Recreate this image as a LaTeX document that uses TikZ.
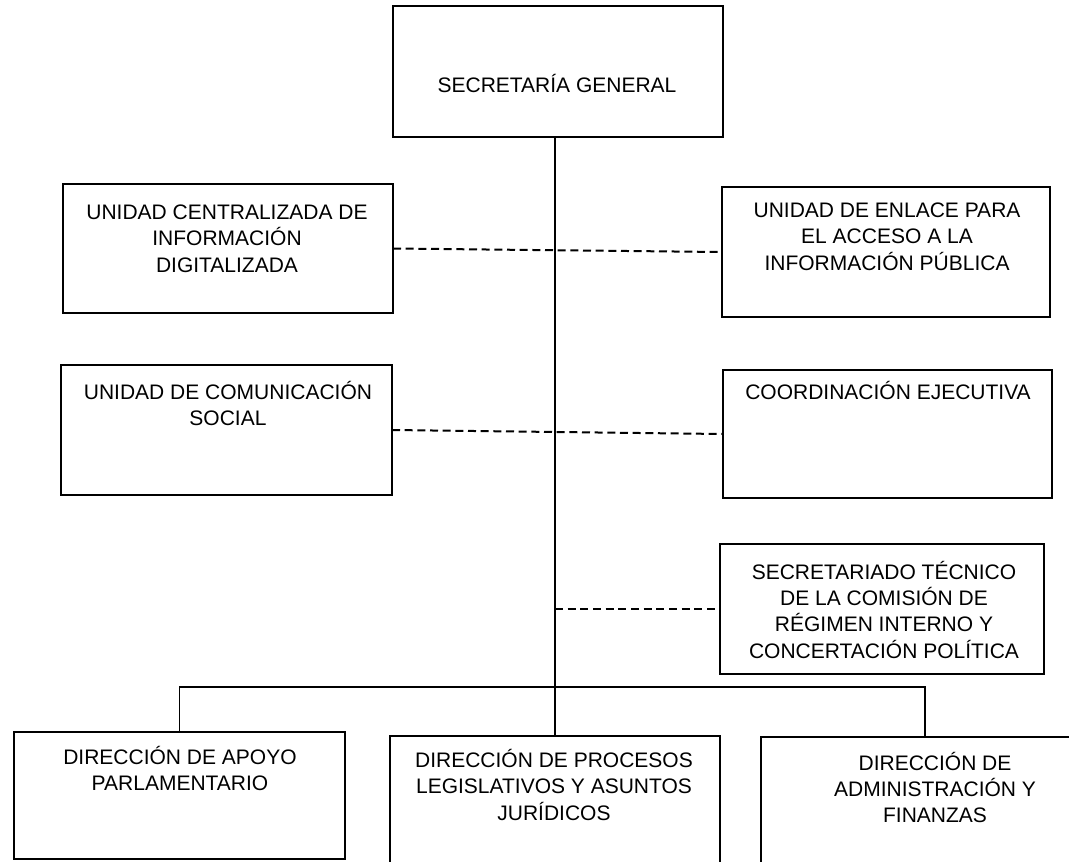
\documentclass[tikz,border=0pt]{standalone}
\usepackage{fontspec}
\setmainfont{Liberation Sans}
\newcommand\boxlines[1]{\parbox[t]{240pt}{\centering\fontsize{15.75pt}{19.8pt}\selectfont #1}}
\tikzset{
  orgbox/.style={draw, line width=1pt, inner sep=0pt, outer sep=0pt},
  lbl/.style={anchor=base, inner sep=0pt, outer sep=0pt},
  solidline/.style={line width=1.3pt},
  dashline/.style={line width=1.5pt, dash pattern=on 6pt off 3.5pt},
}
\begin{document}
\begin{tikzpicture}[x=0.75pt,y=-0.75pt]
\useasboundingbox (0,0) rectangle (1069,861);
\clip (0,0) rectangle (1069,861);
% boxes
\node[orgbox, minimum width=247.5pt, minimum height=98.25pt] (sg) at (558,71.5) {};
\node[orgbox, minimum width=247.5pt, minimum height=96.75pt] (ucid) at (228,248.5) {};
\node[orgbox, minimum width=246pt, minimum height=97.5pt] (uea) at (886,252) {};
\node[orgbox, minimum width=248.25pt, minimum height=97.5pt] (ucs) at (226.5,430) {};
\node[orgbox, minimum width=246.75pt, minimum height=96pt] (ce) at (887.5,434) {};
\node[orgbox, minimum width=243pt, minimum height=97.5pt] (st) at (882,609) {};
\node[orgbox, minimum width=248.25pt, minimum height=95.25pt] (dap) at (179.5,795.5) {};
\node[orgbox, minimum width=247.5pt, minimum height=108pt] (dpl) at (555,808) {};
\node[orgbox, minimum width=246pt, minimum height=107.25pt] (daf) at (925,808.5) {};
% texts
\node[lbl] (tsg) at (557,92.5) {\boxlines{SECRETARÍA GENERAL}};
\node[lbl] (tucid) at (227,219.5) {\boxlines{UNIDAD CENTRALIZADA DE\\INFORMACIÓN\\DIGITALIZADA}};
\node[lbl] (tuea) at (887,217.5) {\boxlines{UNIDAD DE ENLACE PARA\\EL ACCESO A LA\\INFORMACIÓN PÚBLICA}};
\node[lbl] (tucs) at (228,399) {\boxlines{UNIDAD DE COMUNICACIÓN\\SOCIAL}};
\node[lbl] (tce) at (888,399) {\boxlines{COORDINACIÓN EJECUTIVA}};
\node[lbl] (tst) at (884,579) {\boxlines{SECRETARIADO TÉCNICO\\DE LA COMISIÓN DE\\RÉGIMEN INTERNO Y\\CONCERTACIÓN POLÍTICA}};
\node[lbl] (tdap) at (180,764.5) {\boxlines{DIRECCIÓN DE APOYO\\PARLAMENTARIO}};
\node[lbl] (tdpl) at (554,767.5) {\boxlines{DIRECCIÓN DE PROCESOS\\LEGISLATIVOS Y ASUNTOS\\JURÍDICOS}};
\node[lbl] (tdaf) at (935,770) {\boxlines{DIRECCIÓN DE\\ADMINISTRACIÓN Y\\FINANZAS}};
% connectors
\coordinate (bus) at (555,687);
\draw[solidline] (sg.south -| dpl.north) -- (dpl.north);
\draw[solidline] (dap.north) -- (dap.north |- bus) -- (daf.north |- bus) -- (daf.north);
\draw[dashline] (ucid.east) -- (uea.west);
\draw[dashline] (ucs.east) -- (ce.west);
\draw[dashline] (st.west -| dpl.north) -- (st.west);
\end{tikzpicture}
\end{document}
